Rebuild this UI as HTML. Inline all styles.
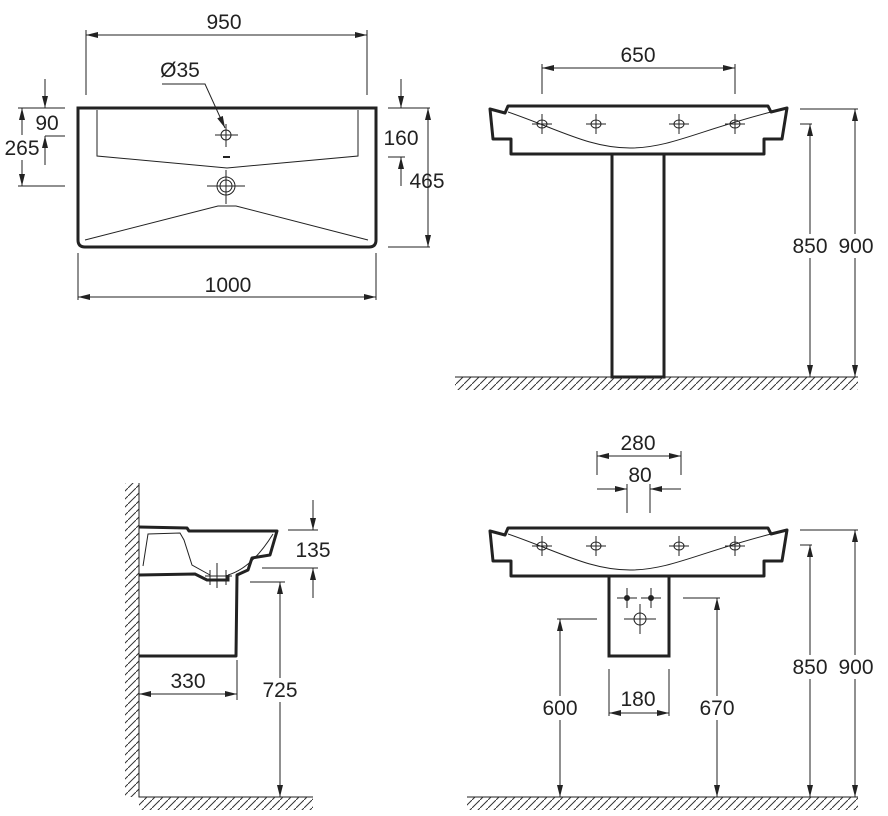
<!DOCTYPE html>
<html><head><meta charset="utf-8"><style>
html,body{margin:0;padding:0;background:#fff}
svg{display:block}
text{font-family:"Liberation Sans",sans-serif;font-size:21px;fill:#222;text-anchor:middle}
</style></head><body>
<svg width="888" height="816" viewBox="0 0 888 816" xmlns="http://www.w3.org/2000/svg">
<defs>
<marker id="a" viewBox="0 0 12 6" refX="12" refY="3" markerWidth="12" markerHeight="6" markerUnits="userSpaceOnUse" orient="auto-start-reverse"><path d="M0,0 L12,3 L0,6 Z" fill="#222"/></marker>
<pattern id="h" width="8" height="8" patternUnits="userSpaceOnUse"><path d="M0,8 L8,0" stroke="#333" stroke-width="1"/></pattern>
<g id="basin">
<path d="M508,106 L768,106 L771,112 L787,108 L782,139 L764,139 L764,154 L511,154 L511,139 L493,139 L490,109 L505,113 Z" fill="none" stroke="#222" stroke-width="3" stroke-linejoin="round"/>
<path d="M508,112 C560,130 590,148 630,148 C670,148 700,130 771,112" fill="none" stroke="#222" stroke-width="1"/>
<g stroke="#222" stroke-width="1" fill="none">
<ellipse cx="542" cy="124" rx="5" ry="4"/><path d="M532,124H552M542,114V134"/>
<ellipse cx="596" cy="124" rx="5" ry="4"/><path d="M586,124H606M596,114V134"/>
<ellipse cx="679" cy="124" rx="5" ry="4"/><path d="M669,124H689M679,114V134"/>
<ellipse cx="735" cy="124" rx="5" ry="4"/><path d="M725,124H745M735,114V134"/>
</g>
</g>
</defs>
<g stroke="#222" fill="none" stroke-width="1">
<path d="M78,108 H376 V240 Q376,247 369,247 H85 Q78,247 78,240 Z" stroke-width="3"/>
<path d="M97,110 V156 L227,168 L358,156 V110"/>
<path d="M85,240 L218,206 H236 L368,240"/>
<circle cx="226" cy="135" r="5"/><path d="M215,135H238M226,124V147"/>
<circle cx="226" cy="186" r="9"/><circle cx="226" cy="186" r="6"/><path d="M207,186H245M226,170V204"/>
<path d="M223,157H230" stroke-width="2"/>
<path d="M86,35 H367" marker-start="url(#a)" marker-end="url(#a)"/>
<path d="M86,30V95 M367,30V95"/>
<path d="M162,84 H205 L225,128" marker-end="url(#a)"/>
<path d="M18,108H65 M45,136H65 M18,186H65"/>
<path d="M45,79V108" marker-end="url(#a)"/><path d="M45,165V136" marker-end="url(#a)"/>
<path d="M22,135V108" marker-end="url(#a)"/><path d="M22,160V186" marker-end="url(#a)"/>
<path d="M388,108H430 M388,157H405 M388,247H430"/>
<path d="M401,79V108" marker-end="url(#a)"/><path d="M401,186V157" marker-end="url(#a)"/>
<path d="M428,108V247" marker-start="url(#a)" marker-end="url(#a)"/>
<path d="M78,253V300 M376,253V300"/>
<path d="M78,297H376" marker-start="url(#a)" marker-end="url(#a)"/>

<use href="#basin"/>
<path d="M612,154V377H664V154" stroke-width="3"/>
<rect x="455" y="377" width="403" height="13" fill="url(#h)" stroke="none"/>
<path d="M455,377H858"/>
<path d="M542,68H735" marker-start="url(#a)" marker-end="url(#a)"/>
<path d="M542,64V94 M735,64V94"/>
<path d="M800,109H858 M800,124H812"/>
<path d="M810,124V377" marker-start="url(#a)" marker-end="url(#a)"/>
<path d="M855,109V377" marker-start="url(#a)" marker-end="url(#a)"/>

<rect x="125" y="483" width="14" height="314" fill="url(#h)" stroke="none"/>
<path d="M139,483V797H313"/>
<rect x="139" y="797" width="174" height="13" fill="url(#h)" stroke="none"/>
<path d="M139,527 L187,528 L189,531 L277,531 L270,555 L252,558 L248,570 L237,575 L236,656 L139,656" stroke-width="3" stroke-linejoin="round"/>
<path d="M139,575 L195,574 L207,580 L228,580 L228,575" stroke-width="3"/>
<path d="M143,566 L148,534 L180,533 L184,540 L192,565 L210,575 M228,575 C245,570 260,555 273,534"/>
<path d="M210,570V585 M226,570V585 M205,576H232 M217,563V588"/>
<path d="M288,530H318 M262,568H318"/>
<path d="M313,500V530" marker-end="url(#a)"/><path d="M313,598V568" marker-end="url(#a)"/>
<path d="M250,582H285"/>
<path d="M280,582V797" marker-start="url(#a)" marker-end="url(#a)"/>
<path d="M237,660V700"/>
<path d="M139,694H237" marker-start="url(#a)" marker-end="url(#a)"/>

<use href="#basin" transform="translate(0,422)"/>
<path d="M609,576V656H669V576" stroke-width="3"/>
<circle cx="627" cy="598" r="2.5" fill="#222"/><circle cx="651" cy="598" r="2.5" fill="#222"/>
<path d="M617,598H637M627,588V608M641,598H661M651,588V608"/>
<circle cx="640" cy="619" r="6"/><path d="M624,619H656M640,604V634"/>
<rect x="467" y="797" width="391" height="13" fill="url(#h)" stroke="none"/>
<path d="M467,797H858"/>
<path d="M597,456H681" marker-start="url(#a)" marker-end="url(#a)"/>
<path d="M597,451V475 M681,451V475 M627,484V513 M650,484V513"/>
<path d="M597,489H627" marker-end="url(#a)"/><path d="M681,489H650" marker-end="url(#a)"/>
<path d="M557,619H597"/>
<path d="M560,619V797" marker-start="url(#a)" marker-end="url(#a)"/>
<path d="M683,598H720"/>
<path d="M717,598V797" marker-start="url(#a)" marker-end="url(#a)"/>
<path d="M609,669V716 M669,669V716"/>
<path d="M609,713H669" marker-start="url(#a)" marker-end="url(#a)"/>
<path d="M800,530H858 M800,545H812"/>
<path d="M810,545V797" marker-start="url(#a)" marker-end="url(#a)"/>
<path d="M855,530V797" marker-start="url(#a)" marker-end="url(#a)"/>
</g>
<g>
<text x="224" y="29">950</text>
<text x="180" y="77">Ø35</text>
<text x="47" y="130">90</text>
<text x="22" y="155">265</text>
<text x="401" y="145">160</text>
<text x="427" y="188">465</text>
<text x="228" y="292">1000</text>
<text x="638" y="62">650</text>
<rect x="790" y="234" width="40" height="24" fill="#fff"/><rect x="836" y="234" width="40" height="24" fill="#fff"/>
<text x="810" y="253">850</text><text x="856" y="253">900</text>
<text x="313" y="557">135</text>
<rect x="261" y="678" width="40" height="24" fill="#fff"/>
<text x="280" y="697">725</text>
<text x="188" y="688">330</text>
<text x="638" y="450">280</text>
<text x="640" y="482">80</text>
<rect x="539" y="696" width="42" height="24" fill="#fff"/><rect x="696" y="696" width="42" height="24" fill="#fff"/>
<text x="560" y="715">600</text><text x="717" y="715">670</text>
<text x="638" y="706">180</text>
<rect x="789" y="655" width="42" height="24" fill="#fff"/><rect x="835" y="655" width="42" height="24" fill="#fff"/>
<text x="810" y="674">850</text><text x="856" y="674">900</text>
</g>
</svg>
</body></html>
